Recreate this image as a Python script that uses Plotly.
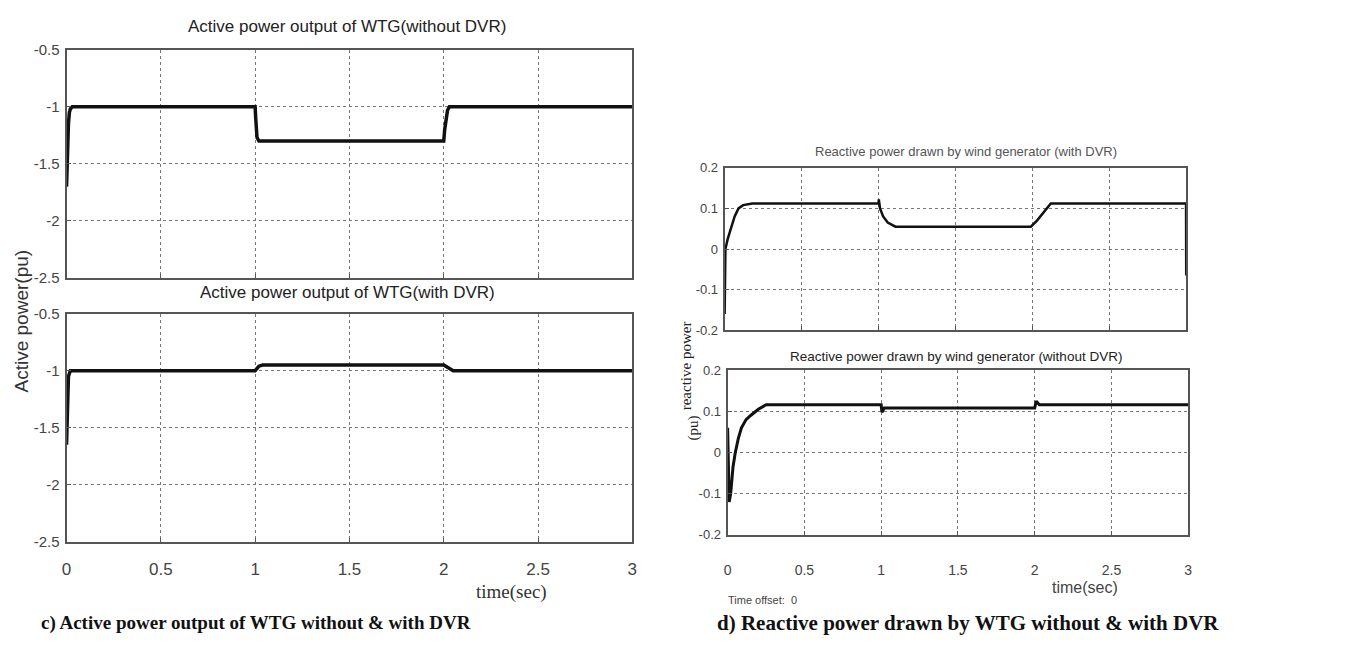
import plotly.graph_objects as go

# ---- data ----
t_act_wo = [0, 0.003, 0.006, 0.01, 0.015, 0.02, 0.03, 1.0, 1.003, 1.006, 1.01, 1.02, 1.03, 2.0, 2.005, 2.01, 2.02, 2.03, 3.0]
p_act_wo = [-1.7, -1.5, -1.3, -1.15, -1.05, -1.02, -1.0, -1.0, -1.1, -1.2, -1.27, -1.3, -1.3, -1.3, -1.2, -1.12, -1.03, -1.0, -1.0]

t_act_w = [0, 0.003, 0.006, 0.01, 0.02, 0.03, 1.0, 1.02, 1.04, 2.0, 2.02, 2.05, 3.0]
p_act_w = [-1.65, -1.4, -1.2, -1.05, -1.0, -1.0, -1.0, -0.96, -0.95, -0.95, -0.97, -1.0, -1.0]

t_rea_w = [0, 0.005, 0.02, 0.04, 0.065, 0.09, 0.12, 0.18, 1.0, 1.002, 1.01, 1.03, 1.06, 1.11, 1.99, 2.03, 2.07, 2.12, 2.999, 3.0]
q_rea_w = [-0.16, 0.0, 0.025, 0.05, 0.08, 0.1, 0.108, 0.112, 0.112, 0.122, 0.1, 0.08, 0.065, 0.055, 0.055, 0.07, 0.09, 0.112, 0.112, -0.065]

t_rea_wo = [0, 0.005, 0.01, 0.02, 0.035, 0.05, 0.07, 0.09, 0.12, 0.15, 0.2, 0.25, 1.0, 1.005, 1.02, 2.0, 2.01, 2.03, 3.0]
q_rea_wo = [0.06, -0.05, -0.12, -0.1, -0.035, 0.0, 0.035, 0.06, 0.08, 0.09, 0.105, 0.116, 0.116, 0.098, 0.108, 0.108, 0.125, 0.116, 0.116]

x_ticks = [0, 0.5, 1, 1.5, 2, 2.5, 3]
x_ticklabels = ["0", "0.5", "1", "1.5", "2", "2.5", "3"]
act_yticks = [-0.5, -1, -1.5, -2, -2.5]
act_yticklabels = ["-0.5", "-1", "-1.5", "-2", "-2.5"]
rea_yticks = [0.2, 0.1, 0, -0.1, -0.2]
rea_yticklabels = ["0.2", "0.1", "0", "-0.1", "-0.2"]

W, H = 1355, 647
def px(x): return x / W
def py(y): return 1 - y / H

fig = go.Figure()
fig.add_trace(go.Scatter(x=t_act_wo, y=p_act_wo, mode="lines", line=dict(color="#111111", width=3.5), xaxis="x", yaxis="y"))
fig.add_trace(go.Scatter(x=t_act_w, y=p_act_w, mode="lines", line=dict(color="#111111", width=3.5), xaxis="x2", yaxis="y2"))
fig.add_trace(go.Scatter(x=t_rea_w, y=q_rea_w, mode="lines", line=dict(color="#111111", width=2.5), xaxis="x3", yaxis="y3"))
fig.add_trace(go.Scatter(x=t_rea_wo, y=q_rea_wo, mode="lines", line=dict(color="#111111", width=3), xaxis="x4", yaxis="y4"))

SANS = "Liberation Sans, Arial, sans-serif"
SERIF = "Liberation Serif, Times New Roman, serif"
TICKFONT = dict(family=SANS, size=15, color="#444444")
TICKFONT_R = dict(family=SANS, size=13, color="#444444")

def xax(dom, anchor, labels, font, standoff=2):
    return dict(domain=dom, anchor=anchor, range=[0, 3], tickmode="array", tickvals=x_ticks,
                ticktext=x_ticklabels, showticklabels=labels, showgrid=True, gridcolor="#777777",
                griddash="dot", gridwidth=1, zeroline=False, showline=True, mirror=True,
                linecolor="#555555", linewidth=2, ticks="inside", ticklen=4, tickcolor="#555555",
                tickfont=font, ticklabelstandoff=standoff, fixedrange=True)

def yax(dom, anchor, rng, vals, texts, font):
    return dict(domain=dom, anchor=anchor, range=rng, tickmode="array", tickvals=vals, ticktext=texts,
                showgrid=True, gridcolor="#777777", griddash="dot", gridwidth=1, zeroline=False,
                showline=True, mirror=True, linecolor="#555555", linewidth=2, ticks="inside",
                ticklen=4, tickcolor="#555555", tickfont=font, ticklabelstandoff=2, fixedrange=True)

fig.update_layout(
    width=W, height=H, margin=dict(l=0, r=0, t=0, b=0), showlegend=False,
    plot_bgcolor="white", paper_bgcolor="white",
    xaxis=xax([px(62), px(632)], "y", False, TICKFONT),
    yaxis=yax([py(276), py(42)], "x", [-2.5, -0.5], act_yticks, act_yticklabels, TICKFONT),
    xaxis2=xax([px(62), px(632)], "y2", True, dict(TICKFONT, size=17), standoff=11),
    yaxis2=yax([py(547), py(313)], "x2", [-2.5, -0.5], act_yticks, act_yticklabels, TICKFONT),
    xaxis3=xax([px(725), px(1190)], "y3", False, TICKFONT_R),
    yaxis3=yax([py(330), py(163)], "x3", [-0.2, 0.2], rea_yticks, rea_yticklabels, TICKFONT_R),
    xaxis4=xax([px(728), px(1192)], "y4", True, dict(TICKFONT_R, size=14), standoff=21),
    yaxis4=yax([py(540), py(371)], "x4", [-0.2, 0.2], rea_yticks, rea_yticklabels, TICKFONT_R),
)

def ann(text, x, y, size, family, color="#222222", angle=0, bold=False):
    if bold:
        text = "<b>" + text + "</b>"
    fig.add_annotation(text=text, x=px(x), y=py(y), xref="paper", yref="paper", showarrow=False,
                       xanchor="center", yanchor="middle", textangle=angle,
                       font=dict(size=size, family=family, color=color))

ann("Active power output of WTG(without DVR)", 345, 18, 17, SANS)
ann("Active power output of WTG(with DVR)", 345, 291, 17, SANS)
ann("Active power(pu)", 17, 320, 19, SANS, color="#333333", angle=-90)
ann("time(sec)", 510, 599, 19, SERIF, color="#333333")
ann("Reactive power drawn by wind generator (with DVR)", 968, 146, 13, SANS, color="#555555")
ann("Reactive power drawn by wind generator (without DVR)", 958, 357, 13.5, SANS)
ann("reactive power", 686, 366, 15, SERIF, angle=-90)
ann("(pu)", 694, 430, 15, SERIF, angle=-90)
ann("time(sec)", 1088, 594, 16, SANS, color="#444444")
ann("Time offset:  0", 763, 607, 11, SANS, color="#444444")
ann("c) Active power output of WTG without & with DVR", 253, 631, 19, SERIF, color="#111111", bold=True)
ann("d) Reactive power drawn by WTG without & with DVR", 970, 631, 21, SERIF, color="#111111", bold=True)

fig.write_html("out.html")
